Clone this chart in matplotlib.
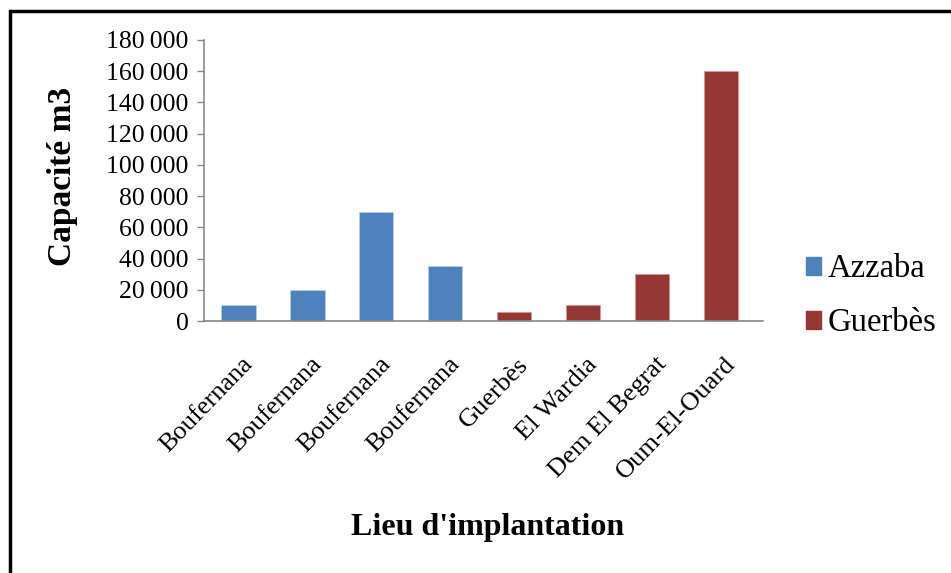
import matplotlib
matplotlib.use("Agg")
import matplotlib.pyplot as plt
import matplotlib.transforms as mtransforms
from matplotlib.patches import Rectangle, Patch
import numpy as np

categories = ["Boufernana", "Boufernana", "Boufernana", "Boufernana",
              "Guerbès", "El Wardia", "Dem El Begrat", "Oum-El-Ouard"]
azzaba_values = [10000, 20000, 70000, 35000]
guerbes_values = [6000, 10000, 30000, 160000]
series_names = ["Azzaba", "Guerbès"]
yticks = list(range(0, 180001, 20000))

blue = "#4F81BD"
red = "#953735"

plt.rcParams['font.family'] = ['Liberation Serif', 'DejaVu Serif']

fig = plt.figure(figsize=(9.51, 5.73), dpi=100)
ax = fig.add_axes([204/951, 1-321/573, (763-204)/951, (321-40)/573])

x = np.arange(len(categories))
n_a = len(azzaba_values)
ax.bar(x[:n_a], azzaba_values, width=0.5, color=blue, edgecolor="#B9CDE5", linewidth=0.6)
ax.bar(x[n_a:], guerbes_values, width=0.5, color=red, edgecolor="#D99694", linewidth=0.6)

ax.set_xlim(-0.5, -0.5 + (763-204)/68.9)
ax.set_ylim(0, 180000)
ax.set_yticks(yticks)
ax.set_yticklabels([f"{v:,}".replace(",", "\u2009") for v in yticks], fontsize=18.5)
ax.tick_params(axis='y', length=5, color="#888888", width=1, pad=6)

ax.set_xticks(x)
ax.set_xticklabels(categories, fontsize=19, rotation=46, ha='right', va='center',
                   rotation_mode='anchor')
ax.tick_params(axis='x', length=0, pad=0)
offset = mtransforms.ScaledTranslation(11/100, -40/100, fig.dpi_scale_trans)
for lab in ax.get_xticklabels():
    lab.set_transform(lab.get_transform() + offset)

for s in ['top', 'right']:
    ax.spines[s].set_visible(False)
for s in ['left', 'bottom']:
    ax.spines[s].set_color("#888888")
    ax.spines[s].set_linewidth(1.2)

fig.text(62/951, 1-176/573, "Capacité m3", rotation=90, fontsize=24, fontweight='bold',
         ha='center', va='center')
fig.text(488/951, 1-528/573, "Lieu d'implantation", fontsize=23, fontweight='bold',
         ha='center', va='center')

handles = [Patch(facecolor=blue, edgecolor=blue), Patch(facecolor=red, edgecolor=red)]
fig.legend(handles, series_names, loc='center left', bbox_to_anchor=(806/951, 1-296/573),
           frameon=False, fontsize=23.5, handlelength=0.46, handleheight=0.46,
           handletextpad=0.2, labelspacing=0.72, borderpad=0, borderaxespad=0)

fig.patches.append(Rectangle((10/951, -0.1), 1.2, (1-11/573)+0.1, transform=fig.transFigure,
                             fill=False, edgecolor='black', linewidth=2.5))

fig.savefig("out.png", dpi=100)
